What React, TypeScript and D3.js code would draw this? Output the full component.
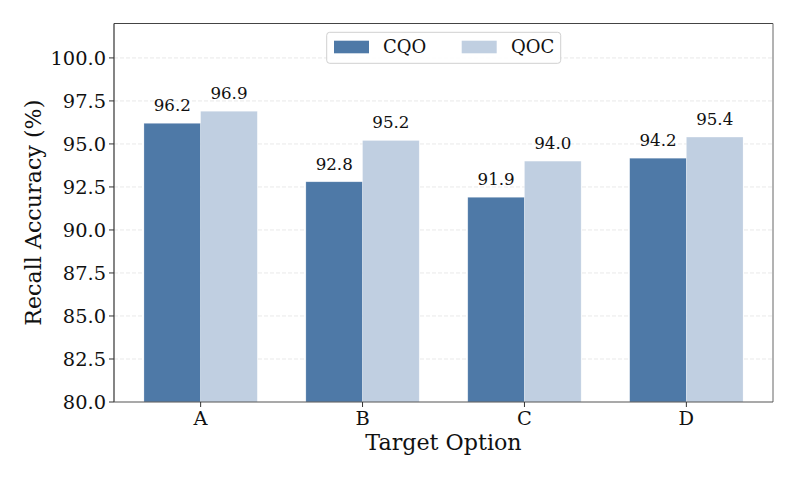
import React from "react";
import * as d3 from "d3";

const categories = ["A", "B", "C", "D"];
const seriesNames = ["CQO", "QOC"];
const cqoValues = [96.2, 92.8, 91.9, 94.17];
const qocValues = [96.9, 95.2, 94.0, 95.4];
const cqoLabels = ["96.2", "92.8", "91.9", "94.2"];
const qocLabels = ["96.9", "95.2", "94.0", "95.4"];
const yTicks = [80, 82.5, 85, 87.5, 90, 92.5, 95, 97.5, 100];
const colors = ["#4e79a7", "#c0cfe1"];

const W = 797, H = 478;
const left = 114, right = 773, top = 23.5, bottom = 402;
const font = "DejaVu Serif, serif";
const barW = 0.35;

export default function App() {
  const x = d3.scaleLinear().domain([-0.535, 3.535]).range([left, right]);
  const y = d3.scaleLinear().domain([80, 102]).range([bottom, top]);
  const series = [
    { name: seriesNames[0], values: cqoValues, labels: cqoLabels, color: colors[0], off: -barW / 2 },
    { name: seriesNames[1], values: qocValues, labels: qocLabels, color: colors[1], off: barW / 2 },
  ];
  const bw = x(barW) - x(0);
  return (
    <svg width={W} height={H} style={{ position: "absolute", left: 0, top: 0, background: "#fff" }} fontFamily={font}>
      <rect x={0} y={0} width={W} height={H} fill="#fff" />
      {yTicks.filter((t) => t > 80).map((t) => (
        <line key={"g" + t} x1={left} x2={right} y1={y(t)} y2={y(t)} stroke="#d9d9d9" strokeWidth={0.8} strokeDasharray="4,2" opacity={0.7} />
      ))}
      {series.map((s) =>
        categories.map((c, i) => (
          <g key={s.name + c}>
            <rect x={x(i + s.off) - bw / 2} y={y(s.values[i])} width={bw} height={y(80) - y(s.values[i])} fill={s.color} stroke="#ffffff" strokeOpacity={0.4} strokeWidth={0.6} />
            <text x={x(i + s.off)} y={y(s.values[i]) - 12} textAnchor="middle" fontSize={16.7} fill="#111">{s.labels[i]}</text>
          </g>
        ))
      )}
      <line x1={left} x2={right} y1={top} y2={top} stroke="#444" strokeWidth={1} />
      <line x1={right} x2={right} y1={top} y2={bottom} stroke="#666" strokeWidth={1} />
      <line x1={left} x2={left} y1={top} y2={bottom} stroke="#333" strokeWidth={1.2} />
      <line x1={left} x2={right} y1={bottom} y2={bottom} stroke="#555" strokeWidth={1.2} />
      {yTicks.map((t) => (
        <g key={"t" + t}>
          <line x1={left - 5} x2={left} y1={y(t)} y2={y(t)} stroke="#333" strokeWidth={1} />
          <text x={left - 8} y={y(t)} dy="0.36em" textAnchor="end" fontSize={19.4} fill="#111">{t.toFixed(1)}</text>
        </g>
      ))}
      {categories.map((c, i) => (
        <g key={"x" + c}>
          <line x1={x(i)} x2={x(i)} y1={bottom} y2={bottom + 5} stroke="#333" strokeWidth={1} />
          <text x={x(i)} y={bottom + 23} textAnchor="middle" fontSize={19.4} fill="#111">{c}</text>
        </g>
      ))}
      <text x={(left + right) / 2} y={450} textAnchor="middle" fontSize={22.2} fill="#111">Target Option</text>
      <text transform={`translate(41,${(top + bottom) / 2}) rotate(-90)`} textAnchor="middle" fontSize={22.2} fill="#111">Recall Accuracy (%)</text>
      <g>
        <rect x={326.7} y={32.3} width={234} height={31} rx={3} fill="#fff" fillOpacity={0.9} stroke="#d0d0d0" strokeWidth={1} />
        {series.map((s, k) => (
          <g key={"l" + s.name}>
            <rect x={334 + k * 127.7} y={40.7} width={35} height={12.6} fill={s.color} />
            <text x={383 + k * 128} y={47} dy="0.36em" fontSize={18} fill="#111">{s.name}</text>
          </g>
        ))}
      </g>
    </svg>
  );
}
